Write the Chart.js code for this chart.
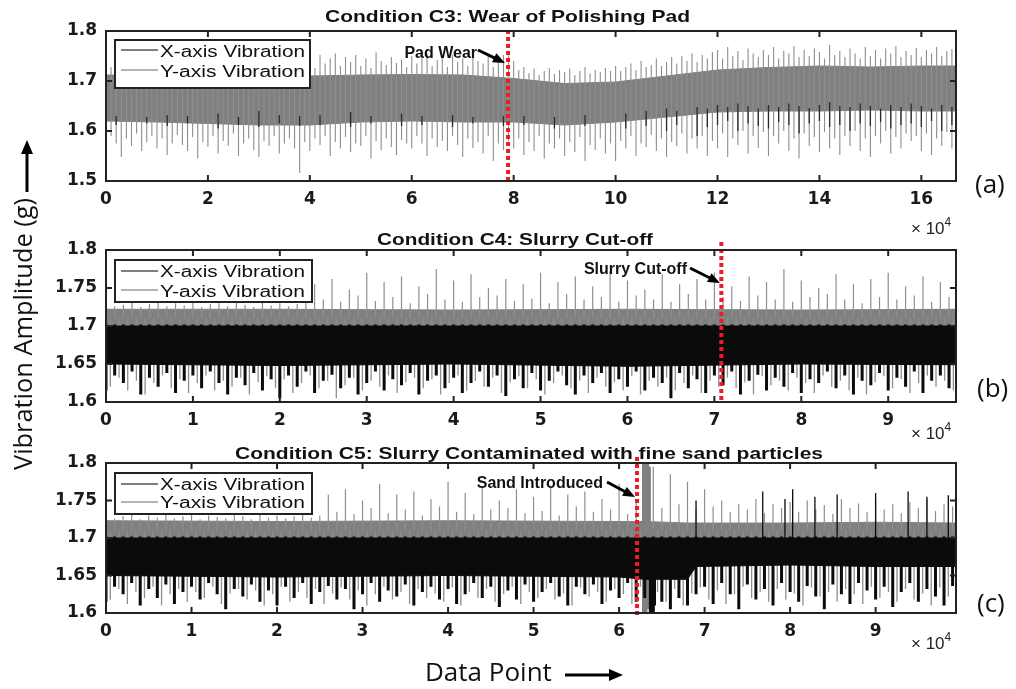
<!DOCTYPE html>
<html>
<head>
<meta charset="utf-8">
<script src="https://cdn.jsdelivr.net/npm/chart.js@4/dist/chart.umd.min.js"></script>
<style>
  body { margin: 0; background: #fff; width: 1016px; height: 689px; overflow: hidden; position: relative; }
  canvas { position: absolute; left: 0; }
  #overlay { position: absolute; left: 0; top: 0; pointer-events: none; }
</style>
</head>
<body>
<canvas id="panelA" width="1016" height="215" style="top:0px"></canvas>
<canvas id="panelB" width="1016" height="215" style="top:215px"></canvas>
<canvas id="panelC" width="1016" height="259" style="top:430px"></canvas>

<svg id="overlay" width="1016" height="689" font-family="'Liberation Sans', Arial, sans-serif">
  <!-- panel titles -->
  <text x="325" y="22" font-size="17" font-weight="bold" fill="#111" textLength="365" lengthAdjust="spacingAndGlyphs">Condition C3: Wear of Polishing Pad</text>
  <text x="377" y="245" font-size="17" font-weight="bold" fill="#111" textLength="276" lengthAdjust="spacingAndGlyphs">Condition C4: Slurry Cut-off</text>
  <text x="235" y="459" font-size="17" font-weight="bold" fill="#111" textLength="588" lengthAdjust="spacingAndGlyphs">Condition C5: Slurry Contaminated with fine sand particles</text>

  <!-- legends -->
  <rect x="115" y="40" width="195" height="48" fill="#fff" stroke="#222" stroke-width="2"/>
  <line x1="121" y1="50" x2="158" y2="50" stroke="#555" stroke-width="1.5"/>
  <text x="160" y="57" font-size="16" fill="#111" textLength="145" lengthAdjust="spacingAndGlyphs">X-axis Vibration</text>
  <line x1="121" y1="70" x2="158" y2="70" stroke="#9a9a9a" stroke-width="1.5"/>
  <text x="160" y="77" font-size="16" fill="#111" textLength="145" lengthAdjust="spacingAndGlyphs">Y-axis Vibration</text>

  <rect x="115" y="260" width="197" height="42" fill="#fff" stroke="#222" stroke-width="2"/>
  <line x1="121" y1="271" x2="158" y2="271" stroke="#555" stroke-width="1.5"/>
  <text x="160" y="277" font-size="16" fill="#111" textLength="145" lengthAdjust="spacingAndGlyphs">X-axis Vibration</text>
  <line x1="121" y1="290" x2="158" y2="290" stroke="#9a9a9a" stroke-width="1.5"/>
  <text x="160" y="297" font-size="16" fill="#111" textLength="145" lengthAdjust="spacingAndGlyphs">Y-axis Vibration</text>

  <rect x="115" y="473" width="197" height="41" fill="#fff" stroke="#222" stroke-width="2"/>
  <line x1="121" y1="484" x2="158" y2="484" stroke="#555" stroke-width="1.5"/>
  <text x="160" y="490" font-size="16" fill="#111" textLength="145" lengthAdjust="spacingAndGlyphs">X-axis Vibration</text>
  <line x1="121" y1="502" x2="158" y2="502" stroke="#9a9a9a" stroke-width="1.5"/>
  <text x="160" y="508" font-size="16" fill="#111" textLength="145" lengthAdjust="spacingAndGlyphs">Y-axis Vibration</text>

  <!-- exponent labels -->
  <text x="911" y="234" font-size="17" fill="#222">× 10<tspan dy="-8" font-size="12">4</tspan></text>
  <text x="911" y="439" font-size="17" fill="#222">× 10<tspan dy="-8" font-size="12">4</tspan></text>
  <text x="911" y="649" font-size="17" fill="#222">× 10<tspan dy="-8" font-size="12">4</tspan></text>

  <!-- panel letters -->
  <text x="975" y="193" font-family="'Open Sans', sans-serif" font-size="26" fill="#111">(a)</text>
  <text x="977" y="397" font-family="'Open Sans', sans-serif" font-size="26" fill="#111">(b)</text>
  <text x="977" y="612" font-family="'Open Sans', sans-serif" font-size="26" fill="#111">(c)</text>

  <!-- axis titles -->
  <text transform="translate(32,470) rotate(-90)" font-family="'Open Sans', sans-serif" font-size="25" fill="#111" textLength="272" lengthAdjust="spacingAndGlyphs">Vibration Amplitude (g)</text>
  <line x1="27" y1="192" x2="27" y2="152" stroke="#000" stroke-width="3"/>
  <polygon points="27,140 21,154 33,154" fill="#000"/>
  <text x="425" y="681" font-family="'Open Sans', sans-serif" font-size="26" fill="#111">Data Point</text>
  <line x1="565" y1="675" x2="611" y2="675" stroke="#000" stroke-width="3"/>
  <polygon points="623,675 609,669 609,681" fill="#000"/>
</svg>

<script>
// ---------- data (x in units of 10^4 data points, y in g) ----------

// Panel (a): C3 wear of polishing pad, min/max per 0.1 bin, x = 0 .. 16.6
const aXMax = 16.68;
const aStart = 0, aStep = 0.1, aCount = 167;
const aGrayTop = [
  1.742, 1.728, 1.738, 1.725, 1.745, 1.73, 1.74, 1.722, 1.736, 1.728,
  1.74, 1.726, 1.745, 1.73, 1.738, 1.724, 1.748, 1.732, 1.74, 1.727,
  1.736, 1.745, 1.728, 1.742, 1.73, 1.75, 1.726, 1.738, 1.744, 1.729,
  1.74, 1.732, 1.748, 1.725, 1.742, 1.735, 1.746, 1.728, 1.74, 1.73,
  1.738, 1.726, 1.752, 1.735, 1.745, 1.755, 1.73, 1.748, 1.738, 1.752,
  1.73, 1.745, 1.726, 1.757, 1.74, 1.732, 1.748, 1.736, 1.742, 1.728,
  1.75, 1.735, 1.745, 1.755, 1.73, 1.742, 1.748, 1.728, 1.752, 1.738,
  1.745, 1.73, 1.758, 1.74, 1.735, 1.75, 1.728, 1.744, 1.752, 1.757,
  1.74, 1.722, 1.728, 1.716, 1.725, 1.712, 1.72, 1.726, 1.714, 1.722,
  1.718, 1.725, 1.712, 1.72, 1.728, 1.715, 1.722, 1.718, 1.726, 1.72,
  1.73, 1.72, 1.728, 1.735, 1.722, 1.74, 1.728, 1.732, 1.745, 1.73,
  1.738, 1.748, 1.735, 1.75, 1.74, 1.755, 1.738, 1.752, 1.745, 1.758,
  1.762, 1.745, 1.768, 1.75, 1.76, 1.742, 1.765, 1.755, 1.748, 1.762,
  1.752, 1.768, 1.745, 1.76, 1.755, 1.77, 1.748, 1.762, 1.75, 1.765,
  1.758, 1.745, 1.772, 1.752, 1.76, 1.748, 1.765, 1.755, 1.745, 1.768,
  1.75, 1.762, 1.745, 1.765, 1.755, 1.77, 1.748, 1.76, 1.752, 1.766,
  1.748, 1.762, 1.755, 1.768, 1.75, 1.76, 1.764
];
const aGrayBottom = [
  1.56, 1.59, 1.575, 1.548, 1.585, 1.57, 1.595, 1.56, 1.578, 1.59,
  1.565, 1.585, 1.552, 1.575, 1.592, 1.572, 1.56, 1.588, 1.545, 1.578,
  1.568, 1.59, 1.555, 1.58, 1.57, 1.595, 1.55, 1.575, 1.585, 1.562,
  1.548, 1.58, 1.57, 1.59, 1.555, 1.575, 1.585, 1.565, 1.516, 1.578,
  1.56, 1.585, 1.572, 1.59, 1.55, 1.578, 1.565, 1.588, 1.558, 1.575,
  1.57, 1.59, 1.545, 1.58, 1.562, 1.585, 1.568, 1.552, 1.582, 1.575,
  1.565, 1.59, 1.575, 1.55, 1.585, 1.568, 1.58, 1.56, 1.59, 1.572,
  1.548, 1.585, 1.566, 1.578, 1.555, 1.59, 1.54, 1.575, 1.562, 1.58,
  1.565, 1.585, 1.552, 1.578, 1.56, 1.59, 1.545, 1.575, 1.565, 1.585,
  1.55, 1.578, 1.558, 1.588, 1.54, 1.572, 1.562, 1.585, 1.555, 1.575,
  1.54, 1.58, 1.565, 1.59, 1.55, 1.575, 1.568, 1.592, 1.56, 1.585,
  1.548, 1.578, 1.57, 1.595, 1.555, 1.585, 1.565, 1.59, 1.55, 1.58,
  1.565, 1.595, 1.548, 1.585, 1.572, 1.6, 1.555, 1.59, 1.566, 1.598,
  1.55, 1.59, 1.575, 1.6, 1.56, 1.585, 1.545, 1.595, 1.57, 1.588,
  1.558, 1.598, 1.565, 1.585, 1.552, 1.59, 1.57, 1.6, 1.56, 1.585,
  1.548, 1.59, 1.575, 1.6, 1.555, 1.588, 1.565, 1.595, 1.58, 1.59,
  1.56, 1.595, 1.552, 1.585, 1.57, 1.598, 1.565
];
// dark X-axis strokes that show through the gray mass, per 0.2 bin
const aBlackStep = 0.2, aBlackCount = 84;
const aBlackTop = [
  null, 1.63, null, null, 1.628,
  null, 1.632, null, 1.63, null, null, 1.635, null, 1.628, null, 1.64, null, 1.632, null, 1.63,
  null, 1.632, null, null, 1.638, null, 1.63, null, null, 1.635, null, 1.63, null, null, 1.632, null, 1.628, null, null, 1.63,
  null, 1.63, null, null, 1.628, null, null, 1.632, null, null,
  null, 1.635, null, 1.64, null, 1.645, 1.64, null, 1.648, 1.645,
  1.652, 1.648, 1.655, 1.65, 1.645, 1.652, 1.648, 1.655, 1.65, 1.646, 1.652, 1.658, 1.65, 1.648, 1.655, 1.65, 1.645, 1.652, 1.648, 1.655, 1.65, 1.645, 1.652, 1.648
];
const aBlackBottom = [
  null, 1.612, null, null, 1.615,
  null, 1.61, null, 1.615, null, null, 1.605, null, 1.612, null, 1.608, null, 1.615, null, 1.61,
  null, 1.612, null, null, 1.608, null, 1.615, null, null, 1.61, null, 1.612, null, null, 1.608, null, 1.615, null, null, 1.61,
  null, 1.612, null, null, 1.605, null, null, 1.61, null, null,
  null, 1.605, null, 1.61, null, 1.6, 1.612, null, 1.59, 1.608,
  1.612, 1.62, 1.6, 1.615, 1.61, 1.605, 1.618, 1.612, 1.595, 1.615, 1.62, 1.608, 1.612, 1.6, 1.615, 1.61, 1.618, 1.605, 1.612, 1.615, 1.608, 1.62, 1.6, 1.612
];
const aCoreX = [0, 1, 2, 3, 4, 5, 6, 7, 8, 9, 10, 11, 12, 13, 14, 15, 16, 16.68];
const aGrayCoreTop = [1.712, 1.712, 1.71, 1.708, 1.71, 1.712, 1.713, 1.712, 1.705, 1.695, 1.698, 1.71, 1.722, 1.727, 1.73, 1.728, 1.73, 1.73];
const aGrayCoreBottom = [1.62, 1.618, 1.615, 1.612, 1.612, 1.618, 1.62, 1.618, 1.618, 1.612, 1.618, 1.628, 1.638, 1.64, 1.64, 1.642, 1.64, 1.64];
const aEventX = 7.89;

// Panel (b): C4 slurry cut-off, x = 0 .. 9.7
const bXMax = 9.78;
const bStart = 0, bStep = 0.1, bCount = 98;
const bGrayTop = [
  1.73, 1.726, 1.728, 1.732, 1.725, 1.729, 1.731, 1.726, 1.73, 1.727,
  1.732, 1.725, 1.729, 1.73, 1.726, 1.731, 1.728, 1.725, 1.732, 1.727,
  1.73, 1.726, 1.729, 1.731,
  1.755, 1.735, 1.762, 1.732, 1.748, 1.74, 1.77, 1.733, 1.758, 1.738,
  1.765, 1.73, 1.752, 1.742, 1.775, 1.735, 1.76, 1.732, 1.768, 1.738,
  1.75, 1.74, 1.762, 1.733, 1.755, 1.736, 1.77, 1.73, 1.758, 1.742,
  1.765, 1.735, 1.752, 1.738, 1.772, 1.732, 1.76, 1.74, 1.748, 1.735,
  1.768, 1.732, 1.755, 1.742, 1.762, 1.735, 1.77, 1.738, 1.752, 1.733,
  1.765, 1.74, 1.758, 1.735, 1.775, 1.732, 1.76, 1.738, 1.75, 1.742,
  1.768, 1.735, 1.755, 1.73, 1.762, 1.738, 1.77, 1.735, 1.752, 1.74,
  1.765, 1.732, 1.758, 1.738
];
// gray downward strokes sit between the black bursts (offset half a bin)
const bGrayBottom = [
  1.62, 1.632, 1.615, 1.628, 1.61, 1.625, 1.635, 1.618, 1.63, 1.612,
  1.625, 1.635, 1.615, 1.628, 1.62, 1.632, 1.61, 1.626, 1.634, 1.618,
  1.63, 1.612, 1.625, 1.635, 1.618, 1.628, 1.605, 1.622, 1.632, 1.615,
  1.628, 1.62, 1.635, 1.612, 1.626, 1.632, 1.618, 1.63, 1.61, 1.625,
  1.635, 1.615, 1.628, 1.62, 1.632, 1.612, 1.626, 1.634, 1.618, 1.63,
  1.61, 1.625, 1.635, 1.618, 1.628, 1.612, 1.632, 1.62, 1.626, 1.615,
  1.634, 1.61, 1.628, 1.62, 1.632, 1.615, 1.625, 1.635, 1.612, 1.628,
  1.62, 1.632, 1.618, 1.626, 1.61, 1.634, 1.622, 1.628, 1.615, 1.632,
  1.625, 1.612, 1.635, 1.62, 1.628, 1.615, 1.632, 1.61, 1.626, 1.634,
  1.618, 1.63, 1.612, 1.625, 1.635, 1.62, 1.628, 1.615
];
const bBlackBottom = [
  1.615, 1.635, 1.625, 1.64, 1.61, 1.632, 1.62, 1.638, 1.612, 1.628,
  1.635, 1.618, 1.64, 1.625, 1.61, 1.632, 1.622, 1.638, 1.615, 1.63,
  1.605, 1.635, 1.62, 1.64, 1.612, 1.628, 1.636, 1.618, 1.632, 1.61,
  1.625, 1.64, 1.615, 1.63, 1.622, 1.638, 1.61, 1.628, 1.635, 1.618,
  1.632, 1.612, 1.625, 1.64, 1.62, 1.635, 1.608, 1.63, 1.618, 1.638,
  1.615, 1.628, 1.64, 1.622, 1.61, 1.635, 1.625, 1.638, 1.612, 1.63,
  1.62, 1.64, 1.615, 1.632, 1.625, 1.605, 1.638, 1.618, 1.63, 1.612,
  1.635, 1.622, 1.64, 1.61, 1.628, 1.636, 1.615, 1.632, 1.62, 1.638,
  1.612, 1.63, 1.625, 1.64, 1.618, 1.635, 1.61, 1.628, 1.622, 1.638,
  1.615, 1.632, 1.62, 1.64, 1.612, 1.628, 1.635, 1.618
];
const bBlackCeil = 1.702;
const bCoreX = [0, 2, 4, 6, 8, 9.78];
const bGrayCoreTop = [1.722, 1.722, 1.721, 1.722, 1.721, 1.722];
const bGrayCoreBottom = [1.697, 1.697, 1.697, 1.697, 1.697, 1.697];
const bBlackCoreTop = [1.70, 1.70, 1.70, 1.70, 1.70, 1.70];
const bBlackCoreBottom = [1.65, 1.648, 1.65, 1.647, 1.65, 1.649];
const bGrayBase = 1.71;
const bEventX = 7.08;

// Panel (c): C5 slurry with fine sand, x = 0 .. 9.9
const cXMax = 9.94;
const cStart = 0, cStep = 0.1, cCount = 100;
const cGrayTop = [
  1.73, 1.726, 1.729, 1.732, 1.725, 1.73, 1.727, 1.731, 1.726, 1.729,
  1.732, 1.725, 1.73, 1.728, 1.726, 1.731, 1.729, 1.725, 1.732, 1.727,
  1.73, 1.726, 1.729, 1.731, 1.727, 1.73,
  1.758, 1.735, 1.765, 1.732, 1.75, 1.74, 1.772, 1.733, 1.758, 1.738,
  1.762, 1.73, 1.752, 1.742, 1.775, 1.735, 1.76, 1.732, 1.768, 1.738,
  1.75, 1.74, 1.765, 1.733, 1.755, 1.736, 1.77, 1.73, 1.758, 1.742,
  1.762, 1.735, 1.752, 1.738, 1.772, 1.732, 1.748,
  1.745,
  1.795, 1.74, 1.785, 1.745, 1.775, 1.738, 1.765,
  1.742, 1.75, 1.735, 1.745, 1.738, 1.752, 1.733, 1.745, 1.74, 1.748,
  1.735, 1.75, 1.738, 1.744, 1.732, 1.752, 1.74, 1.746, 1.735, 1.75,
  1.738, 1.745, 1.733, 1.748, 1.74, 1.752, 1.736, 1.745, 1.742
];
const cGrayBottom = [
  1.618, 1.632, 1.612, 1.628, 1.62, 1.635, 1.61, 1.625, 1.632, 1.615,
  1.628, 1.62, 1.635, 1.612, 1.626, 1.632, 1.618, 1.63, 1.61, 1.625,
  1.635, 1.615, 1.628, 1.62, 1.632, 1.612, 1.626, 1.634, 1.618, 1.63,
  1.61, 1.625, 1.635, 1.618, 1.628, 1.612, 1.632, 1.62, 1.626, 1.615,
  1.634, 1.61, 1.628, 1.62, 1.632, 1.615, 1.625, 1.635, 1.612, 1.628,
  1.62, 1.632, 1.618, 1.626, 1.61, 1.634, 1.622, 1.628, 1.615, 1.632,
  1.625, 1.612, 1.635, 1.62, 1.628, 1.615, 1.632, 1.61, 1.626, 1.634,
  1.618, 1.63, 1.612, 1.625, 1.635, 1.62, 1.628, 1.615, 1.632, 1.618,
  1.626, 1.61, 1.634, 1.622, 1.628, 1.615, 1.632, 1.625, 1.612, 1.635,
  1.62, 1.628, 1.615, 1.632, 1.618, 1.626, 1.61, 1.634, 1.622, 1.628
];
const cBlackBottom = [
  1.615, 1.635, 1.625, 1.64, 1.61, 1.632, 1.62, 1.638, 1.612, 1.628,
  1.635, 1.618, 1.64, 1.625, 1.605, 1.632, 1.622, 1.638, 1.615, 1.63,
  1.61, 1.635, 1.62, 1.64, 1.612, 1.628, 1.636, 1.618, 1.632, 1.605,
  1.625, 1.64, 1.615, 1.63, 1.622, 1.638, 1.61, 1.628, 1.635, 1.618,
  1.632, 1.612, 1.625, 1.64, 1.62, 1.635, 1.608, 1.63, 1.618, 1.638,
  1.615, 1.628, 1.64, 1.622, 1.61, 1.635, 1.625, 1.638, 1.612, 1.63,
  1.62, 1.64, 1.615,
  1.62,
  1.60, 1.615, 1.605, 1.62, 1.61, 1.625,
  1.635, 1.612, 1.64, 1.625, 1.605, 1.638, 1.618, 1.632, 1.61, 1.64,
  1.628, 1.615, 1.636, 1.622, 1.605, 1.638, 1.625, 1.612, 1.64, 1.63,
  1.618, 1.635, 1.608, 1.628, 1.64, 1.615, 1.632, 1.622, 1.61, 1.636
];
const cBlackCeil = 1.702;
const cCoreX = [0, 2, 4, 6, 6.3, 6.8, 6.9, 8, 9, 9.94];
const cGrayCoreTop = [1.723, 1.722, 1.723, 1.722, 1.722, 1.72, 1.72, 1.72, 1.721, 1.72];
const cGrayCoreBottom = [1.697, 1.697, 1.697, 1.697, 1.697, 1.697, 1.697, 1.697, 1.697, 1.697];
const cBlackCoreTop = [1.70, 1.70, 1.70, 1.70, 1.70, 1.70, 1.70, 1.70, 1.70, 1.70];
const cBlackCoreBottom = [1.65, 1.648, 1.65, 1.648, 1.645, 1.645, 1.662, 1.664, 1.662, 1.662];
const cGrayBase = 1.71;
// the sand burst right after the red line
const cSandX = [6.28, 6.30, 6.32, 6.34, 6.36];
const cSandTop = [1.8, 1.8, 1.8, 1.8, 1.795];
const cSandBottom = [1.60, 1.60, 1.60, 1.605, 1.61];
const cSandBlackX = [6.36, 6.38, 6.40, 6.42];
const cSandBlackTop = [1.70, 1.70, 1.70, 1.70];
const cSandBlackBottom = [1.60, 1.60, 1.602, 1.61];
// isolated X-axis peaks poking above the gray band after the sand
const cPeakX = [6.9, 7.68, 7.94, 8.03, 8.29, 8.55, 9.0, 9.38, 9.6, 9.85];
const cPeakTop = [1.75, 1.762, 1.752, 1.765, 1.755, 1.758, 1.76, 1.762, 1.755, 1.757];
const cPeakBase = 1.70;
const cEventX = 6.21;

// ---------- helpers ----------
const GRAY = '#808080';
const GRAY_SPIKE = '#8e8e8e';
const BLACK = '#0b0b0b';

function grid(start, step, n) {
  let xs = [];
  for (let i = 0; i < n; i++) xs.push(+(start + i * step).toFixed(3));
  return xs;
}

// one vertical stroke per bin, from -> to, broken by null points
function segments(xs, from, to) {
  let pts = [];
  xs.forEach(function(x, i) {
    let a = Array.isArray(from) ? from[i] : from;
    let b = Array.isArray(to) ? to[i] : to;
    if (a == null || b == null) return;
    pts.push({x: x, y: a}, {x: x, y: b}, {x: x, y: null});
  });
  return pts;
}

function line(xs, ys) {
  return xs.map(function(x, i) { return {x: x, y: ys[i]}; });
}

function spikes(data, color, width) {
  return {data: data, borderColor: color, borderWidth: width, pointRadius: 0, spanGaps: false, fill: false};
}

// lower edge first, upper edge fills down to it
function core(xs, lo, hi, color) {
  return [
    {data: line(xs, lo), borderColor: color, borderWidth: 1, pointRadius: 0, fill: false},
    {data: line(xs, hi), borderColor: color, borderWidth: 1, pointRadius: 0, fill: '-1', backgroundColor: color}
  ];
}

const marksPlugin = {
  id: 'marks',
  afterDatasetsDraw(chart, args, opts) {
    const ctx = chart.ctx;
    const px = chart.scales.x.getPixelForValue(opts.eventX);
    ctx.save();
    // red dotted event line
    ctx.strokeStyle = '#ec1c24';
    ctx.lineWidth = 4;
    ctx.setLineDash([4, 3]);
    ctx.beginPath();
    ctx.moveTo(px, opts.lineTop);
    ctx.lineTo(px, opts.lineBottom);
    ctx.stroke();
    ctx.setLineDash([]);
    // label + arrow
    ctx.fillStyle = '#111';
    ctx.font = 'bold 16px "Liberation Sans", Arial, sans-serif';
    ctx.textAlign = 'right';
    ctx.textBaseline = 'alphabetic';
    ctx.fillText(opts.label, opts.labelRight, opts.labelBase);
    const t = opts.tail, h = opts.head;
    const ang = Math.atan2(h[1] - t[1], h[0] - t[0]);
    ctx.strokeStyle = '#000';
    ctx.lineWidth = 3;
    ctx.beginPath();
    ctx.moveTo(t[0], t[1]);
    ctx.lineTo(h[0] - 9 * Math.cos(ang), h[1] - 9 * Math.sin(ang));
    ctx.stroke();
    ctx.fillStyle = '#000';
    ctx.beginPath();
    ctx.moveTo(h[0], h[1]);
    ctx.lineTo(h[0] - 12 * Math.cos(ang) + 5 * Math.sin(ang), h[1] - 12 * Math.sin(ang) - 5 * Math.cos(ang));
    ctx.lineTo(h[0] - 12 * Math.cos(ang) - 5 * Math.sin(ang), h[1] - 12 * Math.sin(ang) + 5 * Math.cos(ang));
    ctx.closePath();
    ctx.fill();
    ctx.restore();
  },
  afterDraw(chart) {
    const ctx = chart.ctx, area = chart.chartArea;
    const xs = chart.scales.x, ys = chart.scales.y;
    ctx.save();
    ctx.strokeStyle = '#222';
    ctx.lineWidth = 2;
    ctx.strokeRect(area.left, area.top, area.right - area.left, area.bottom - area.top);
    ctx.beginPath();
    xs.ticks.forEach(function(t) {
      const p = xs.getPixelForValue(t.value);
      ctx.moveTo(p, area.bottom); ctx.lineTo(p, area.bottom - 6);
      ctx.moveTo(p, area.top); ctx.lineTo(p, area.top + 6);
    });
    ys.ticks.forEach(function(t) {
      const p = ys.getPixelForValue(t.value);
      ctx.moveTo(area.left, p); ctx.lineTo(area.left + 6, p);
      ctx.moveTo(area.right, p); ctx.lineTo(area.right - 6, p);
    });
    ctx.stroke();
    ctx.restore();
  }
};

function drawPanel(id, opt) {
  const tickFont = {family: '"DejaVu Sans", sans-serif', weight: 'bold', size: 17};
  return new Chart(document.getElementById(id), {
    type: 'line',
    data: {datasets: opt.datasets},
    options: {
      responsive: false,
      animation: false,
      events: [],
      layout: {padding: opt.padding},
      elements: {line: {tension: 0}},
      plugins: {
        legend: {display: false},
        tooltip: {enabled: false},
        marks: opt.marks
      },
      scales: {
        x: {
          type: 'linear', min: 0, max: opt.xMax,
          grid: {display: false, drawTicks: false},
          border: {display: false},
          ticks: {
            stepSize: opt.xStep, includeBounds: false, autoSkip: false, maxRotation: 0,
            padding: 8, color: '#1a1a1a', font: tickFont,
            callback: function(v) { return String(+v.toFixed(1)); }
          },
          afterFit: function(s) { s.height = opt.xHeight; }
        },
        y: {
          min: opt.yMin, max: opt.yMax,
          grid: {display: false, drawTicks: false},
          border: {display: false},
          ticks: {
            stepSize: opt.yStep, padding: 9, color: '#1a1a1a', font: tickFont,
            callback: function(v) { return String(+v.toFixed(2)); }
          },
          afterFit: function(s) { s.width = 66; }
        }
      }
    },
    plugins: [marksPlugin]
  });
}

// ---------- panel (a) ----------
const aX = grid(aStart, aStep, aCount);
const aXBlack = grid(aStart, aBlackStep, aBlackCount);
drawPanel('panelA', {
  xMax: aXMax, xStep: 2, yMin: 1.5, yMax: 1.8, yStep: 0.1, xHeight: 30,
  padding: {left: 40, right: 60, top: 31, bottom: 4},
  datasets: [
    spikes(segments(aXBlack, aBlackBottom, aBlackTop), '#2a2a2a', 1.3),
    spikes(segments(aX, aGrayBottom, aGrayTop), GRAY_SPIKE, 1.1)
  ].concat(core(aCoreX, aGrayCoreBottom, aGrayCoreTop, GRAY)),
  marks: {eventX: aEventX, lineTop: 30, lineBottom: 182, label: 'Pad Wear', labelRight: 477, labelBase: 58, tail: [478, 50], head: [505, 63]}
});

// ---------- panel (b) ----------
const bX = grid(bStart, bStep, bCount);
const bXHalf = grid(bStart + bStep / 2, bStep, bCount);
drawPanel('panelB', {
  xMax: bXMax, xStep: 1, yMin: 1.6, yMax: 1.8, yStep: 0.05, xHeight: 28,
  padding: {left: 40, right: 60, top: 35, bottom: 0},
  datasets: [spikes(segments(bX, bBlackBottom, bBlackCeil), BLACK, 3)]
    .concat(core(bCoreX, bBlackCoreBottom, bBlackCoreTop, BLACK))
    .concat([
      spikes(segments(bXHalf, bGrayBase, bGrayBottom), GRAY_SPIKE, 1.3),
      spikes(segments(bX, bGrayBase, bGrayTop), GRAY_SPIKE, 1.2)
    ])
    .concat(core(bCoreX, bGrayCoreBottom, bGrayCoreTop, GRAY)),
  marks: {eventX: bEventX, lineTop: 27, lineBottom: 187, label: 'Slurry Cut-off', labelRight: 687, labelBase: 59, tail: [690, 53], head: [720, 68]}
});

// ---------- panel (c) ----------
const cX = grid(cStart, cStep, cCount);
const cXHalf = grid(cStart + cStep / 2, cStep, cCount);
drawPanel('panelC', {
  xMax: cXMax, xStep: 1, yMin: 1.6, yMax: 1.8, yStep: 0.05, xHeight: 28,
  padding: {left: 40, right: 60, top: 33, bottom: 48},
  datasets: [
    spikes(segments(cPeakX, cPeakBase, cPeakTop), BLACK, 1.3),
    spikes(segments(cSandBlackX, cSandBlackBottom, cSandBlackTop), BLACK, 2),
    spikes(segments(cX, cBlackBottom, cBlackCeil), BLACK, 3)
  ]
    .concat(core(cCoreX, cBlackCoreBottom, cBlackCoreTop, BLACK))
    .concat([
      spikes(segments(cSandX, cSandBottom, cSandTop), GRAY, 2),
      spikes(segments(cXHalf, cGrayBase, cGrayBottom), GRAY_SPIKE, 1.3),
      spikes(segments(cX, cGrayBase, cGrayTop), GRAY_SPIKE, 1.2)
    ])
    .concat(core(cCoreX, cGrayCoreBottom, cGrayCoreTop, GRAY)),
  marks: {eventX: cEventX, lineTop: 27, lineBottom: 188, label: 'Sand Introduced', labelRight: 603, labelBase: 58, tail: [607, 52], head: [635, 67]}
});
</script>
</body>
</html>
